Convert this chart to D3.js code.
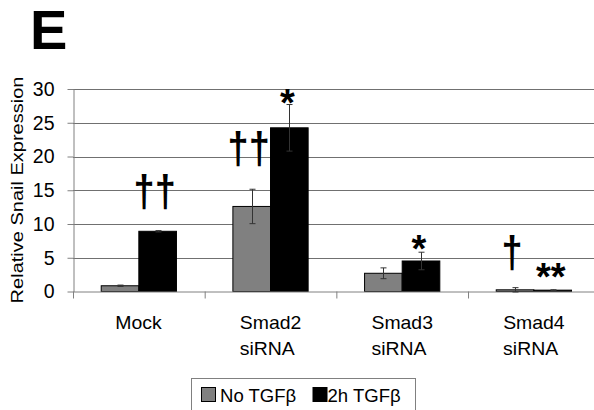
<!DOCTYPE html>
<html>
<head>
<meta charset="utf-8">
<script src="https://cdn.jsdelivr.net/npm/d3@7"></script>
<style>
  html, body { margin: 0; padding: 0; background: #fff; }
  svg { display: block; font-family: "Liberation Sans", Arial, sans-serif; }
</style>
</head>
<body>
<svg id="chart" width="594" height="410"></svg>
<script>
// Relative Snail expression by siRNA treatment, with and without 2h TGFβ
const categories = [["Mock"], ["Smad2", "siRNA"], ["Smad3", "siRNA"], ["Smad4", "siRNA"]];
const seriesNames = ["No TGFβ", "2h TGFβ"];
const noTGFb = [0.85, 12.6, 2.7, 0.25];
const noTGFbErr = [0.1, 2.55, 0.8, 0.32];
const tgfb2h = [8.92, 24.25, 4.52, 0.2];
const tgfb2hErr = [0.1, 3.45, 1.3, 0.06];
const yTicks = [0, 5, 10, 15, 20, 25, 30];
// significance marks: symbol and the value level of its baseline
const marksNo = [null, { text: "††", level: 19.0 }, null, { text: "†", level: 3.7 }];
const marks2h = [{ text: "††", level: 12.7 }, { text: "*", level: 26.0 }, { text: "*", level: 4.3 }, { text: "**", level: 0.2 }];

const colors = ["#808080", "#000000"];
const svg = d3.select("#chart");

const plotLeft = 73, plotRight = 599.7, plotTop = 89, plotBottom = 291.5;
const catKeys = categories.map((c, i) => i);

const x0 = d3.scaleBand().domain(catKeys).range([plotLeft, plotRight]).paddingInner(0).paddingOuter(0);
const x1 = d3.scaleBand().domain([0, 1]).range([0, x0.bandwidth()]).paddingInner(0).paddingOuter(0.75);
const y = d3.scaleLinear().domain([0, 30]).range([plotBottom, plotTop]);

// panel letter
svg.append("text").attr("x", 30).attr("y", 48.5)
  .attr("font-size", 56).attr("font-weight", "bold").text("E");

// gridlines
svg.append("g").selectAll("line").data(yTicks.filter(d => d > 0)).join("line")
  .attr("x1", plotLeft).attr("x2", plotRight)
  .attr("y1", d => Math.round(y(d)) + 0.5).attr("y2", d => Math.round(y(d)) + 0.5)
  .attr("stroke", "#707070").attr("stroke-width", 1);

// y axis
const yAxis = d3.axisLeft(y).tickValues(yTicks).tickSize(6).tickPadding(13).tickSizeOuter(0);
const gy = svg.append("g").attr("transform", `translate(${plotLeft + 0.5},0)`).call(yAxis);
gy.select(".domain").attr("stroke", "#808080");
gy.selectAll(".tick line").attr("stroke", "#808080");
gy.selectAll(".tick text").attr("font-size", 19.5).attr("fill", "#000")
  .attr("font-family", "Liberation Sans, Arial, sans-serif");

// y label
svg.append("text")
  .attr("transform", `translate(22.5,${(77 + 303) / 2}) rotate(-90) scale(1.25,1)`)
  .attr("text-anchor", "middle").attr("font-size", 16).text("Relative Snail Expression");

// bars
const series = [
  { vals: noTGFb, errs: noTGFbErr, marks: marksNo },
  { vals: tgfb2h, errs: tgfb2hErr, marks: marks2h }
];
const barG = svg.append("g");
series.forEach((s, si) => {
  const g = barG.append("g");
  g.selectAll("rect").data(s.vals).join("rect")
    .attr("x", (d, i) => x0(i) + x1(si))
    .attr("y", d => y(d))
    .attr("width", x1.bandwidth())
    .attr("height", d => y(0) - y(d))
    .attr("fill", colors[si]).attr("stroke", "#000").attr("stroke-width", 1);
});

// x axis baseline and category ticks
const xAxis = d3.axisBottom(x0).tickSize(7).tickFormat("").tickSizeOuter(0);
const gx = svg.append("g").attr("transform", `translate(0,${plotBottom})`).call(xAxis);
gx.select(".domain").attr("stroke", "#808080");
gx.selectAll(".tick").attr("transform", d => `translate(${x0(d) + 0.5},0)`);
gx.selectAll(".tick line").attr("stroke", "#808080");

// error bars
series.forEach((s, si) => {
  const g = svg.append("g").attr("stroke-width", 1).attr("stroke", "#333");
  s.vals.forEach((v, i) => {
    const cx = Math.round(x0(i) + x1(si) + x1.bandwidth() / 2) + 0.5;
    const yt = y(v + s.errs[i]), yb = y(v - s.errs[i]);
    g.append("line").attr("x1", cx).attr("x2", cx).attr("y1", yt).attr("y2", yb);
    g.append("line").attr("x1", cx - 3).attr("x2", cx + 3).attr("y1", yt).attr("y2", yt);
    g.append("line").attr("x1", cx - 3).attr("x2", cx + 3).attr("y1", yb).attr("y2", yb);
  });
});

// significance marks
series.forEach((s, si) => {
  s.marks.forEach((m, i) => {
    if (!m) return;
    const cx = x0(i) + x1(si) + x1.bandwidth() / 2;
    const isStar = m.text.includes("*");
    svg.append("text")
      .attr("transform", isStar
        ? `translate(${cx - 2},${y(m.level)})`
        : `translate(${cx - 3},${y(m.level)}) scale(1,1.15)`)
      .attr("text-anchor", "middle")
      .attr("font-size", isStar ? 38 : 38)
      .attr("font-weight", "bold")
      .text(m.text);
  });
});

// category labels (slightly widened type)
categories.forEach((lines, i) => {
  const cx = x0(i) + x0.bandwidth() / 2;
  const g = svg.append("g").attr("transform", `translate(${cx},0) scale(1.11,1)`);
  const t = g.append("text").attr("font-size", 17.5);
  lines.forEach((ln, li) => {
    t.append("tspan").attr("x", 0).attr("y", 329 + li * 26).text(ln);
  });
  // left-align wrapped lines within the block centered on the category
  const w = t.node().getBBox().width;
  t.selectAll("tspan").attr("x", -w / 2);
});

// legend
const lg = svg.append("g");
lg.append("rect").attr("x", 191.5).attr("y", 378.5).attr("width", 224).attr("height", 40)
  .attr("fill", "#fff").attr("stroke", "#808080");
const legendItems = [{ x: 201, tx: 220 }, { x: 312.5, tx: 327.5 }];
seriesNames.forEach((name, i) => {
  lg.append("rect").attr("x", legendItems[i].x + 0.5).attr("y", 387.5).attr("width", 14).attr("height", 14)
    .attr("fill", colors[i]).attr("stroke", "#000");
  lg.append("text").attr("transform", `translate(${legendItems[i].tx},401.5) scale(1.06,1)`)
    .attr("font-size", 17.5).text(name);
});
</script>
</body>
</html>
